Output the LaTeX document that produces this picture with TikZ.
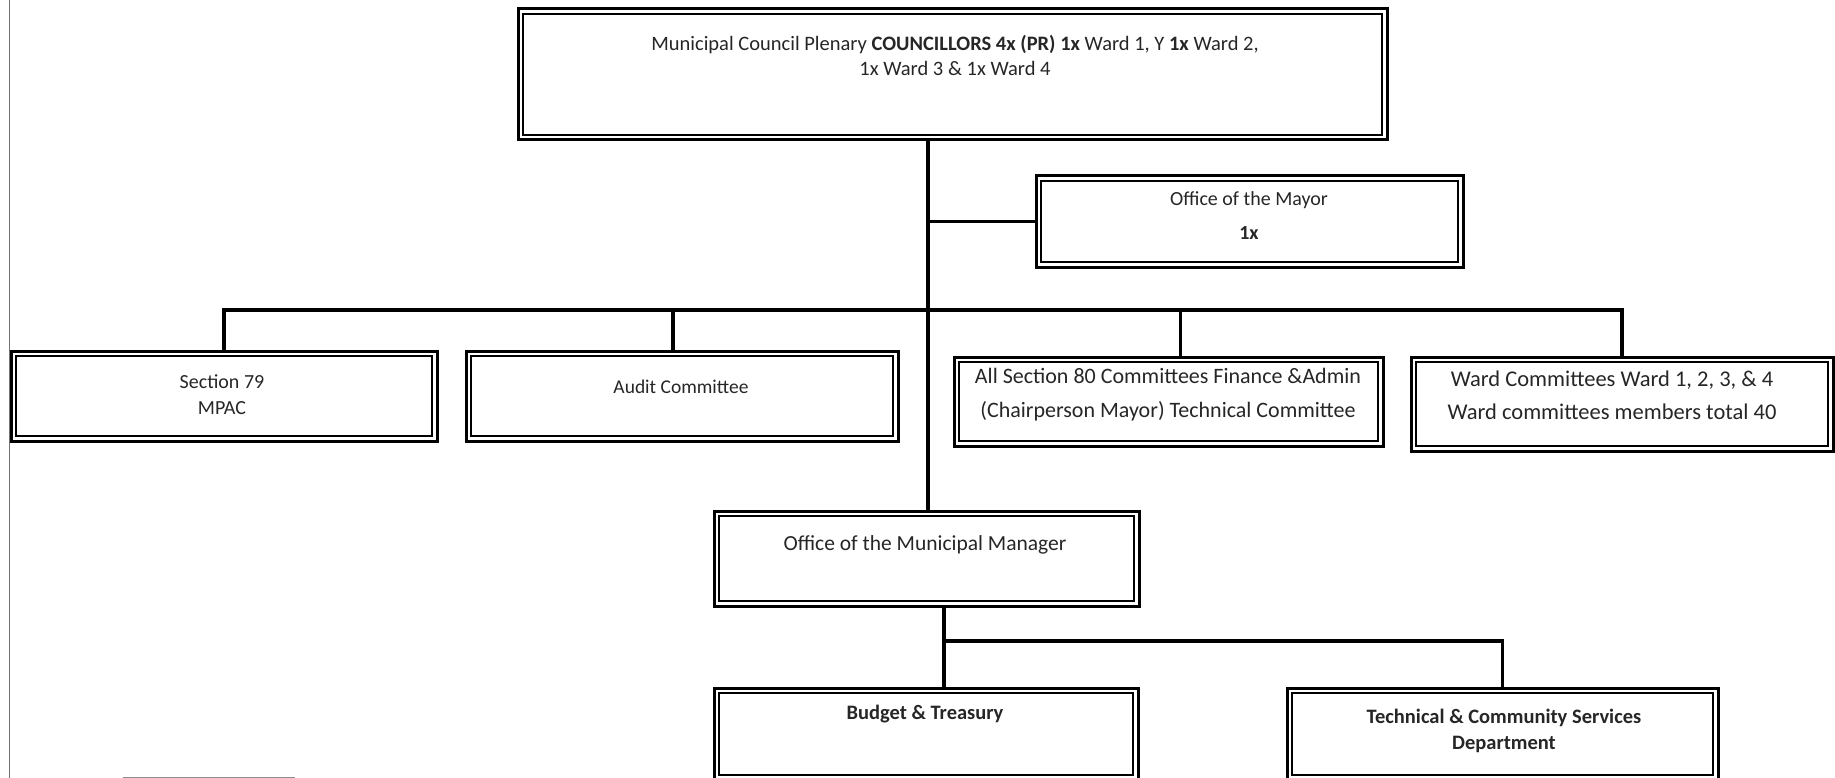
\documentclass[tikz,border=0pt]{standalone}
\usepackage{fontspec}
\setmainfont{Carlito}
\begin{document}
\begin{tikzpicture}[x=1pt,y=-1pt,
  box/.style={draw=black, line width=3pt, inner sep=0pt, outer sep=0pt, anchor=north west,
    path picture={\draw[line width=1.2pt] ([shift={(5pt,-5pt)}]path picture bounding box.north west) rectangle ([shift={(-5pt,5pt)}]path picture bounding box.south east);}},
  txt/.style={align=center, inner sep=0pt, text=black!85, font=\fontsize{21}{30}\selectfont},
  link/.style={draw=black, line width=3.5pt}]
\useasboundingbox (0,0) rectangle (1835,778);
% page edge marks
\draw[black!55, line width=1pt] (9,0) -- (9,778);
\draw[black!45, line width=1pt] (123,777) -- (295,777);
% boxes
\node[box, minimum width=869, minimum height=131] (top) at (518,9) {};
\node[box, minimum width=427, minimum height=91] (mayor) at (1036,176) {};
\node[box, minimum width=426, minimum height=90] (s79) at (11,351) {};
\node[box, minimum width=432, minimum height=90] (audit) at (466,351) {};
\node[box, minimum width=429, minimum height=89] (s80) at (954,357) {};
\node[box, minimum width=422, minimum height=94] (ward) at (1411,357) {};
\node[box, minimum width=425, minimum height=95] (omm) at (714,511) {};
\node[box, minimum width=424, minimum height=92] (budget) at (714,688) {};
\node[box, minimum width=431, minimum height=92] (tech) at (1287,688) {};
% texts
\node[txt, font=\fontsize{20.5}{25}\selectfont] (ttop) at (955,55) {Municipal Council Plenary \textbf{COUNCILLORS 4x (PR) 1x} Ward 1, Y \textbf{1x} Ward 2,\\1x Ward 3 \& 1x Ward 4};
\node[txt, font=\fontsize{20}{34}\selectfont] (tmayor) at (1249,216) {Office of the Mayor\\\textbf{1x}};
\node[txt, font=\fontsize{20}{26}\selectfont] (ts79) at (222,395) {Section 79\\MPAC};
\node[txt, font=\fontsize{19.5}{26}\selectfont] (taudit) at (681,387) {Audit Committee};
\node[txt, font=\fontsize{22}{34}\selectfont] (ts80) at (1168,395) {All Section 80 Committees Finance \&Admin\\(Chairperson Mayor) Technical Committee};
\node[txt, font=\fontsize{22.5}{33}\selectfont] (tward) at (1612,395) {Ward Committees Ward 1, 2, 3, \& 4\\Ward committees members total 40};
\node[txt, font=\fontsize{21.5}{26}\selectfont] (tomm) at (925,545) {Office of the Municipal Manager};
\node[txt, font=\bfseries\fontsize{20.5}{26}\selectfont] (tbudget) at (925,714) {Budget \& Treasury};
\node[txt, font=\bfseries\fontsize{20.5}{26}\selectfont] (ttech) at (1504,731) {Technical \& Community Services\\Department};
% connectors
\coordinate (trunk) at (928,140);
\coordinate (bus) at (0,310);
\coordinate (split) at (944,641);
\draw[link] (trunk) -- (trunk |- omm.north);
\draw[link] (trunk |- mayor.west) -- (mayor.west);
\draw[link] (s79.north) -- (s79.north |- bus) -- (ward.north |- bus) -- (ward.north);
\draw[link] ([xshift=-9pt]audit.north) -- ([xshift=-9pt]audit.north |- bus);
\draw[link] ([xshift=12pt]s80.north) -- ([xshift=12pt]s80.north |- bus);
\draw[link] (split |- omm.south) -- (split) -- (split -| tech.north) -- (tech.north);
\draw[link] (split) -- (split |- budget.north);
\end{tikzpicture}
\end{document}
